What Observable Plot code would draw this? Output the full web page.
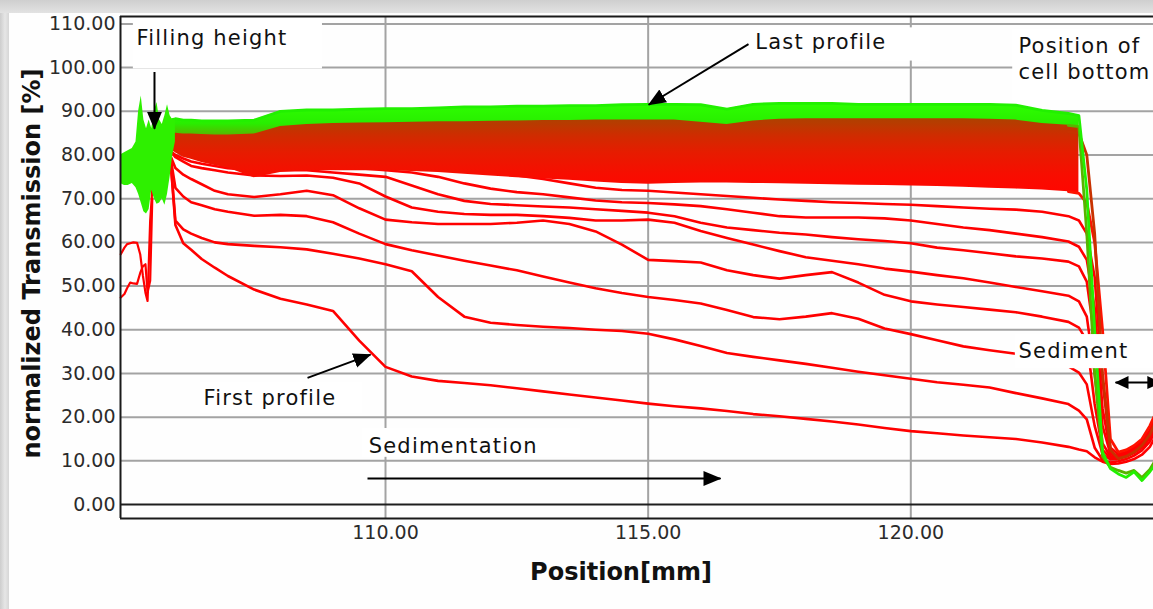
<!DOCTYPE html>
<html><head><meta charset="utf-8">
<script src="https://cdn.jsdelivr.net/npm/d3@7"></script>
<script src="https://cdn.jsdelivr.net/npm/@observablehq/plot@0.6"></script>
<style>
html,body{margin:0;padding:0;overflow:hidden;}
body{width:1153px;height:609px;position:relative;background:linear-gradient(90deg,#cdcdcd,#e6e6e6 5px,#d6d6d6 9px);}
#topband{position:absolute;left:0;top:0;right:0;height:13px;background:linear-gradient(180deg,#cfcfcf,#e2e2e2);}
#panel{position:absolute;left:9px;top:13px;right:0;bottom:0;background:#fefefe;}
#chart{position:absolute;left:0;top:0;}
svg g[font-size="21"]{letter-spacing:1.2px;}
</style></head><body>
<div id="topband"></div><div id="panel"></div><div id="chart"></div>
<script>
// ---- axes ----
const xDomain = [104.955, 124.62];
const yDomain = [-3.2, 111.7];
const xTicks = [110, 115, 120];
const yTicks = [0, 10, 20, 30, 40, 50, 60, 70, 80, 90, 100, 110];
const xTitle = "Position[mm]";
const yTitle = "normalized Transmission [%]";

// ---- measurement positions (mm) ----
const pos = [105.9, 106.0, 106.15, 106.3, 106.5, 106.75, 107, 107.5, 108, 108.5, 109, 109.5, 110, 110.5, 111, 111.5, 112, 112.5, 113, 113.5, 114, 114.5, 115, 115.5, 116, 116.5, 117, 117.5, 118, 118.5, 119, 119.5, 120, 120.5, 121, 121.5, 122, 122.5, 123, 123.2, 123.35, 123.5, 123.65, 123.8, 123.95, 124.1, 124.25, 124.4, 124.55, 124.7];

// ---- individual early profiles (transmission %) ----
const profile1 = [80, 64, 59.8, 58.3, 56.2, 54.2, 52.3, 49.2, 47.1, 45.8, 44.3, 37.5, 31.5, 29.3, 28.3, 27.8, 27.3, 26.6, 25.9, 25.2, 24.5, 23.8, 23.1, 22.5, 22, 21.4, 20.7, 20.2, 19.6, 19, 18.3, 17.5, 16.8, 16.3, 15.8, 15.4, 15, 14.2, 13.2, 12.6, 12.2, 10.8, 9.8, 9.3, 9.4, 9.8, 10.4, 11.4, 13.2, 16.5];
const profile2 = [80, 65, 63, 62, 61, 60, 59.6, 59.2, 58.9, 58.4, 57.4, 56.3, 55, 53.4, 47.5, 43, 41.6, 41.1, 40.7, 40.4, 40, 39.7, 39.1, 37.8, 36.3, 34.7, 33.8, 33, 32.2, 31.3, 30.4, 29.6, 28.8, 28, 27.4, 26.8, 25.5, 24.3, 23, 21.5, 19.5, 13, 10.2, 9.6, 9.9, 10.4, 11.2, 12.4, 14.4, 18];
const profile3 = [80, 72.5, 70.5, 69.2, 68.5, 67.6, 67, 66.1, 66.3, 66, 64.6, 62, 59.6, 58.2, 57, 55.8, 54.7, 53.6, 52.2, 50.8, 49.5, 48.4, 47.5, 46.8, 46, 44.5, 42.9, 42.4, 43, 43.8, 42.5, 40.3, 39, 37.6, 36.2, 35.3, 34.5, 33.2, 31.6, 30.2, 27.5, 18, 11.5, 10.3, 10.5, 11, 11.8, 13, 15.2, 19];
const profile4 = [80, 77, 75.5, 74.5, 73.3, 71.8, 71, 70.4, 71, 71.8, 70.8, 67.8, 65.2, 64.6, 64.2, 64.2, 64.2, 64.5, 65, 64.2, 62.5, 59.5, 56, 55.7, 55.4, 53.6, 52.5, 51.7, 52.5, 53.2, 50.8, 48, 46.5, 45.8, 45.2, 44.6, 44, 43, 41.8, 40.5, 37.5, 23, 12.5, 10.6, 10.6, 11.2, 12, 13.2, 15.5, 19.5];
const profile5 = [81, 79.5, 78.5, 77.5, 77, 76.5, 76, 75.3, 75.2, 75.3, 74.8, 73.5, 70.5, 68, 67, 66.5, 66.3, 66.3, 66, 65.6, 65, 65, 65.2, 64.5, 62.6, 61, 59.5, 58, 56.6, 55.8, 55, 54, 53.3, 52.5, 51.8, 50.8, 49.8, 48.8, 47.8, 46.5, 43, 30, 14, 11, 11, 11.5, 12.5, 14, 16, 20];
const profile6 = [81, 80, 79.2, 78.5, 78, 77.5, 77, 76.5, 76.5, 76.5, 76, 75.5, 75, 73, 71, 69.5, 68.8, 68.5, 68.2, 68, 67.6, 67.2, 66.8, 66, 64.5, 63.4, 62.8, 62.2, 61.8, 61.2, 60.7, 60.3, 59.8, 58.8, 58.2, 57.5, 56.8, 56.3, 55.6, 54.5, 51, 38, 18, 11.5, 11, 11.5, 12.5, 14, 16, 20];
const profile7 = [81.5, 81, 80.5, 80, 79, 78.5, 78, 77.5, 77.5, 77.5, 77.3, 77, 76.5, 76, 75, 73.5, 72.3, 71.5, 71, 70.3, 69.6, 69.2, 69, 68.7, 68.3, 67.6, 66.8, 66, 65.7, 65.7, 65.7, 65.5, 65, 64.2, 63.4, 62.8, 62, 61.2, 60.2, 59, 56, 45, 22, 12, 11, 12, 13, 14.5, 16.5, 21];
const profile8 = [82, 81.5, 81, 80.5, 80, 79.5, 79, 78.5, 78.5, 78.5, 78.5, 78.2, 78, 77.6, 77.2, 76.6, 76, 75.3, 74.5, 73.5, 72.5, 72, 71.8, 71.4, 71, 70.6, 70.2, 69.8, 69.5, 69.2, 69, 68.8, 68.6, 68.3, 68, 67.7, 67.5, 67, 66, 65, 62, 52, 28, 13, 11.5, 12, 13, 14.5, 17, 21];

// ---- dense band of later profiles ----
const bandLower = [82, 80.5, 79.5, 79, 78.3, 77.6, 77, 74.8, 76, 76.4, 76.4, 76.4, 76.4, 76.2, 76, 75.6, 75.2, 74.8, 74.5, 74.2, 73.8, 73.5, 73.3, 73.5, 73.6, 73.6, 73.5, 73.4, 73.3, 73.2, 73.1, 73, 72.9, 72.8, 72.6, 72.4, 72.2, 72, 71.6, 71.2, 69, 60, 40, 15, 12, 12.5, 13.5, 15, 18, 22];
const midProfile = [85, 84.5, 84, 83.8, 83.5, 83.3, 83.2, 83.2, 84.5, 85, 85.2, 85.3, 85.4, 85.5, 85.6, 85.7, 85.8, 85.9, 86, 86, 86.1, 86.2, 86.2, 86.2, 86, 86, 86.2, 86.3, 86.4, 86.4, 86.4, 86.4, 86.4, 86.4, 86.4, 86.4, 86.2, 85.8, 85.3, 85, 80, 62, 30, 12.5, 10.5, 11, 12, 13.5, 16, 20];
const lateProfile = [85, 85, 84.8, 84.8, 84.7, 84.6, 84.6, 84.8, 86.5, 87, 87.2, 87.3, 87.4, 87.5, 87.6, 87.6, 87.7, 87.8, 87.9, 87.9, 88, 88, 88, 88, 87.5, 87, 87.8, 88.2, 88.3, 88.3, 88.3, 88.3, 88.3, 88.3, 88.3, 88.2, 88, 87.2, 86.8, 86.5, 62, 30, 11, 8.5, 7.8, 7.2, 7.8, 6.2, 8, 11];
const lastProfile = [88, 88.3, 88, 88, 87.8, 87.8, 87.8, 88, 90, 90.3, 90.3, 90.5, 90.6, 90.6, 90.8, 91, 91, 91.2, 91.2, 91.3, 91.3, 91.5, 91.6, 91.6, 91.5, 90.5, 91.6, 91.8, 91.8, 91.8, 91.6, 91.6, 91.6, 91.6, 91.6, 91.6, 91.4, 90.2, 89.5, 89, 72, 40, 12, 8.2, 7, 6.2, 7.5, 5.5, 7.5, 10];

// ---- filling-height zone ----
const fillPos = [104.955, 105.03, 105.1, 105.18, 105.25, 105.3, 105.35, 105.4, 105.45, 105.5, 105.55, 105.6, 105.65, 105.7, 105.75, 105.8, 105.85, 105.9, 105.95, 106.0];
const fillTop = [80, 80.5, 81, 81.5, 83, 90, 93.5, 88, 86, 88, 86, 90, 92, 88, 87, 89, 91.5, 89, 88, 88];
const fillBottom = [73.5, 73, 73, 73.5, 72.5, 71, 69, 67, 66.5, 67.5, 72, 70, 68.7, 69, 70, 68.5, 71, 75, 80, 83];
const leftPos = [104.96, 105.03, 105.08, 105.14, 105.2, 105.27, 105.33, 105.38, 105.43, 105.47, 105.52, 105.56];
const leftUpper = [57.3, 58.8, 59.6, 59.8, 60, 59.9, 57.3, 52.5, 48.5, 46.6, 65, 72];
const leftLower = [47.4, 48.2, 49.5, 50.8, 50.6, 50.5, 53, 54.5, 55, 48.5, 51.2, 70];

// ---- annotations ----
const noteText = ["Filling height", "Last profile", "Position of", "cell bottom", "Sediment", "First profile", "Sedimentation"];
const noteX = [105.26, 117.04, 122.05, 122.05, 122.05, 106.535, 109.68];
const noteY = [106.7, 105.7, 104.8, 98.9, 35.1, 24.3, 13.3];
const boxX1 = [105.2, 116.95, 121.94, 121.99, 106.48, 109.56];
const boxX2 = [108.8, 120.37, 124.7, 124.7, 109.56, 113.71];
const boxY1 = [99.7, 101.5, 92.4, 31.1, 20.8, 10.8];
const boxY2 = [111.2, 109.1, 108.8, 38.9, 27.9, 17.4];
const arrowX1 = [105.602, 116.91, 108.515, 109.657];
const arrowY1 = [99.0, 105.4, 29.0, 5.95];
const arrowX2 = [105.602, 115.01, 109.714, 116.377];
const arrowY2 = [86.0, 91.5, 34.3, 5.95];
const spanX1 = [123.897];
const spanX2 = [124.75];
const spanY = [27.9];

// ---- build tables ----
const redSeries = [["p1", profile1], ["p2", profile2], ["p3", profile3], ["p4", profile4], ["p5", profile5], ["p6", profile6], ["p7", profile7], ["p8", profile8]];
const redRows = redSeries.flatMap(([name, ys]) => ys.map((y, i) => ({name, x: pos[i], y})));
const bandRows = pos.map((x, i) => ({x, lo: bandLower[i], hi: lastProfile[i]})).filter(d => d.x <= 123.2);
const greenRows = pos.map((x, i) => ({x, lo: lateProfile[i], hi: lastProfile[i]})).filter(d => d.x <= 123.2);
const tailSeries = [["lower", bandLower, "#ff1200"], ["mid", midProfile, "#c83200"], ["late", lateProfile, "#58b400"]];
const tailRows = tailSeries.flatMap(([name, ys, c]) => ys.map((y, i) => ({name, c, x: pos[i], y}))).filter(d => d.x >= 123);
const lastRows = pos.map((x, i) => ({x, y: lastProfile[i]}));
const fillRows = fillPos.map((x, i) => ({x, lo: fillBottom[i], hi: fillTop[i]}));
const leftRows = [["u", leftUpper], ["l", leftLower]].flatMap(([name, ys]) => ys.map((y, i) => ({name, x: leftPos[i], y})));
const notes = noteText.map((t, i) => ({t, x: noteX[i], y: noteY[i]}));
const boxes = boxX1.map((x1, i) => ({x1, x2: boxX2[i], y1: boxY1[i], y2: boxY2[i]}));
const arrows = arrowX1.map((x1, i) => ({x1, y1: arrowY1[i], x2: arrowX2[i], y2: arrowY2[i]}));
const spans = spanX1.map((x1, i) => ({x1, x2: spanX2[i], y: spanY[i]}));

const fmt = d3.format(".2f");
const svg = Plot.plot({
  width: 1153, height: 609,
  marginLeft: 120, marginRight: 0, marginTop: 16, marginBottom: 91,
  style: {background: "transparent", fontFamily: "DejaVu Sans", fontSize: "19px", color: "#2b2b2b"},
  x: {domain: xDomain, ticks: xTicks, tickFormat: fmt, tickSize: 0, tickPadding: 7, label: null},
  y: {domain: yDomain, ticks: yTicks, tickFormat: fmt, tickSize: 0, tickPadding: 5, label: null},
  marks: [
    Plot.ruleY(yTicks.filter(t => t > 0), {stroke: "#a3a3a3", strokeWidth: 2}),
    Plot.ruleX(xTicks, {stroke: "#a3a3a3", strokeWidth: 2}),
    Plot.ruleY([0], {stroke: "#1e1e1e", strokeWidth: 2}),
    Plot.line(leftRows, {x: "x", y: "y", z: "name", stroke: "#ff0000", strokeWidth: 2.2}),
    Plot.line(redRows, {x: "x", y: "y", z: "name", stroke: "#ff0000", strokeWidth: 2.6}),
    Plot.areaY(bandRows, {x: "x", y1: "lo", y2: "hi", fill: "url(#bandGrad)"}),
    Plot.areaY(greenRows, {x: "x", y1: "lo", y2: "hi", fill: "url(#greenGrad)"}),
    Plot.line(tailRows, {x: "x", y: "y", z: "name", stroke: "c", strokeWidth: 2.8}),
    Plot.line(lastRows, {x: "x", y: "y", stroke: "#22f000", strokeWidth: 2.8}),
    Plot.areaY(fillRows, {x: "x", y1: "lo", y2: "hi", fill: "#2ef000"}),
    Plot.ruleX([xDomain[0]], {stroke: "#1a1a1a", strokeWidth: 2}),
    Plot.ruleY(yDomain, {stroke: "#1a1a1a", strokeWidth: 2}),
    Plot.rect(boxes, {x1: "x1", x2: "x2", y1: "y1", y2: "y2", fill: "#ffffff"}),
    Plot.text(notes, {x: "x", y: "y", text: "t", textAnchor: "start", fontSize: 21, fill: "#111"}),
    Plot.link(arrows, {x1: "x1", y1: "y1", x2: "x2", y2: "y2", stroke: "#000", strokeWidth: 2}),
    Plot.link(spans, {x1: "x1", y1: "y", x2: "x2", y2: "y", stroke: "#000", strokeWidth: 2}),
    Plot.text([xTitle], {text: d => d, frameAnchor: "bottom", textAnchor: "middle", lineAnchor: "middle", dx: -16, dy: 54, fontSize: 24, fontWeight: "bold", fill: "#111"}),
    Plot.text([yTitle], {text: d => d, frameAnchor: "left", textAnchor: "middle", lineAnchor: "middle", rotate: -90, dx: -88, dy: -4, fontSize: 24, fontWeight: "bold", fill: "#111"})
  ]
});

const defs = document.createElementNS("http://www.w3.org/2000/svg", "defs");
defs.innerHTML = `
<linearGradient id="bandGrad" x1="0" y1="0" x2="0" y2="1">
  <stop offset="0" stop-color="#9a4c00"/>
  <stop offset="0.22" stop-color="#b63c00"/>
  <stop offset="0.36" stop-color="#cf2c00"/>
  <stop offset="0.55" stop-color="#e61c00"/>
  <stop offset="0.8" stop-color="#f80d00"/>
  <stop offset="1" stop-color="#ff0600"/>
</linearGradient>
<linearGradient id="greenGrad" x1="0" y1="0" x2="0" y2="1">
  <stop offset="0" stop-color="#2eff00"/>
  <stop offset="0.65" stop-color="#28ee00"/>
  <stop offset="1" stop-color="#56b800"/>
</linearGradient>
<marker id="ah" viewBox="0 -8 18 16" refX="17" refY="0" markerWidth="18" markerHeight="16" markerUnits="userSpaceOnUse" orient="auto"><path d="M0,-7.5L18,0L0,7.5Z" fill="#000"/></marker>
<marker id="ah2" viewBox="0 -7 14 14" refX="13" refY="0" markerWidth="14" markerHeight="14" markerUnits="userSpaceOnUse" orient="auto-start-reverse"><path d="M0,-6.5L14,0L0,6.5Z" fill="#000"/></marker>`;
svg.insertBefore(defs, svg.firstChild);
const linkGroups = svg.querySelectorAll('g[aria-label="link"]');
if (linkGroups[0]) linkGroups[0].querySelectorAll("path, line").forEach(p => p.setAttribute("marker-end", "url(#ah)"));
if (linkGroups[1]) linkGroups[1].querySelectorAll("path, line").forEach(p => { p.setAttribute("marker-end", "url(#ah2)"); p.setAttribute("marker-start", "url(#ah2)"); });
document.getElementById("chart").appendChild(svg);
</script></body></html>
